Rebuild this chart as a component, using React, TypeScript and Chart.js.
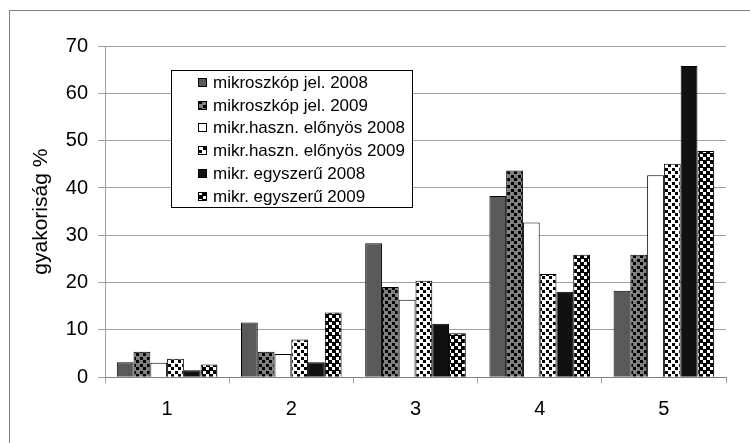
import React, { useEffect, useRef } from "react";
import { Chart, registerables } from "chart.js";

Chart.register(...registerables);

const categories = ["1", "2", "3", "4", "5"];
const seriesLabels = [
  "mikroszkóp jel. 2008",
  "mikroszkóp jel. 2009",
  "mikr.haszn. előnyös 2008",
  "mikr.haszn. előnyös 2009",
  "mikr. egyszerű 2008",
  "mikr. egyszerű 2009",
];
const mikroJel2008 = [3.2, 11.6, 28.3, 38.3, 18.3];
const mikroJel2009 = [5.4, 5.4, 19.1, 43.7, 25.9];
const elonyos2008 = [3.1, 4.9, 16.4, 32.7, 42.7];
const elonyos2009 = [3.9, 8.0, 20.4, 21.8, 45.1];
const egyszeru2008 = [1.5, 3.2, 11.3, 18.1, 65.8];
const egyszeru2009 = [2.7, 13.7, 9.3, 25.9, 47.8];
const yTicks = [0, 10, 20, 30, 40, 50, 60, 70];

const FONT = "'Liberation Sans', Arial, sans-serif";

function makePattern(
  ctx: CanvasRenderingContext2D,
  bg: string,
  fg: string,
  dot: number,
  size: number
): CanvasPattern | string {
  const tile = document.createElement("canvas");
  tile.width = size;
  tile.height = size;
  const t = tile.getContext("2d");
  if (!t) return bg;
  t.fillStyle = bg;
  t.fillRect(0, 0, size, size);
  t.fillStyle = fg;
  const h = Math.floor(size / 2);
  t.fillRect(0, 0, dot, dot);
  t.fillRect(h, h, dot, dot);
  const p = ctx.createPattern(tile, "repeat");
  return p || bg;
}

const framePlugin = {
  id: "frame",
  beforeDraw(chart: any) {
    const ctx = chart.ctx;
    ctx.save();
    ctx.fillStyle = "#ffffff";
    ctx.fillRect(0, 0, chart.width, chart.height);
    ctx.strokeStyle = "#808080";
    ctx.lineWidth = 1;
    ctx.strokeRect(9.5, 10.5, chart.width + 20, chart.height + 20);
    ctx.restore();
  },
};

const insideLegend = {
  id: "insideLegend",
  afterDatasetsDraw(chart: any) {
    const ctx = chart.ctx;
    const { left, top } = chart.chartArea;
    const x = Math.round(left + 66);
    const y = Math.round(top + 24);
    const w = 241;
    const h = 137;
    ctx.save();
    ctx.fillStyle = "#ffffff";
    ctx.fillRect(x, y, w, h);
    ctx.strokeStyle = "#000000";
    ctx.lineWidth = 1;
    ctx.strokeRect(x + 0.5, y + 0.5, w, h);
    ctx.font = `17px ${FONT}`;
    ctx.textBaseline = "middle";
    ctx.textAlign = "left";
    chart.data.datasets.forEach((ds: any, i: number) => {
      const cy = Math.round(y + 12 + i * 22.7);
      ctx.fillStyle = ds.backgroundColor;
      ctx.fillRect(x + 27, cy - 4, 8, 8);
      ctx.strokeStyle = "#000000";
      ctx.strokeRect(x + 27.5, cy - 3.5, 8, 8);
      ctx.fillStyle = "#000000";
      ctx.fillText(ds.label, x + 42, cy + 1);
    });
    ctx.restore();
  },
};

export default function App() {
  const ref = useRef<HTMLCanvasElement | null>(null);

  useEffect(() => {
    const canvas = ref.current;
    if (!canvas) return;
    const ctx = canvas.getContext("2d");
    if (!ctx) return;

    const p2 = makePattern(ctx, "#808080", "#000000", 3, 7);
    const p4 = makePattern(ctx, "#ffffff", "#000000", 3, 7);
    const p6 = makePattern(ctx, "#000000", "#ffffff", 3, 7);

    const values = [
      mikroJel2008,
      mikroJel2009,
      elonyos2008,
      elonyos2009,
      egyszeru2008,
      egyszeru2009,
    ];
    const fills: any[] = ["#595959", p2, "#ffffff", p4, "#111111", p6];

    const chart = new Chart(ctx, {
      type: "bar",
      data: {
        labels: categories,
        datasets: values.map((v, i) => ({
          label: seriesLabels[i],
          data: v,
          backgroundColor: fills[i],
          borderColor: "#000000",
          borderWidth: 1,
          categoryPercentage: 0.81,
          barPercentage: 1.0,
        })),
      },
      options: {
        responsive: false,
        animation: false,
        devicePixelRatio: 1,
        layout: { padding: { top: 46, right: 24, bottom: 0, left: 0 } },
        plugins: {
          legend: { display: false },
          tooltip: { enabled: false },
        },
        scales: {
          x: {
            grid: {
              display: true,
              drawOnChartArea: false,
              drawTicks: true,
              tickLength: 6,
              color: "#a0a0a0",
              offset: true,
            },
            border: { display: true, color: "#808080" },
            ticks: {
              color: "#000000",
              font: { family: FONT, size: 20 },
              padding: 14,
              maxRotation: 0,
            },
            afterFit(scale: any) {
              scale.height = 65.7;
            },
          },
          y: {
            min: 0,
            max: 70,
            afterBuildTicks(scale: any) {
              scale.ticks = yTicks.map((v) => ({ value: v }));
            },
            grid: {
              color: "#a0a0a0",
              tickLength: 7,
            },
            border: { display: true, color: "#a0a0a0" },
            ticks: {
              color: "#000000",
              font: { family: FONT, size: 20 },
              padding: 10,
            },
            title: {
              display: true,
              text: "gyakoriság %",
              color: "#000000",
              font: { family: FONT, size: 21 },
              padding: { top: 29, bottom: 0 },
            },
            afterFit(scale: any) {
              scale.width = 105;
            },
          },
        },
      },
      plugins: [framePlugin, insideLegend],
    });

    return () => {
      chart.destroy();
    };
  }, []);

  return (
    <div
      style={{
        position: "absolute",
        left: 0,
        top: 0,
        width: 750,
        height: 443,
        background: "#fff",
      }}
    >
      <canvas
        ref={ref}
        width={750}
        height={443}
        style={{ width: 750, height: 443, display: "block" }}
      />
    </div>
  );
}
